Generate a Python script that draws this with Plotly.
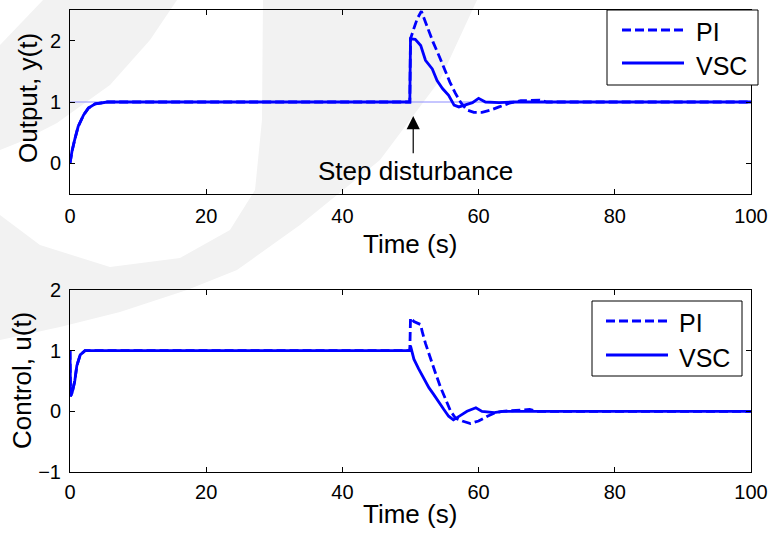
import plotly.graph_objects as go

# ---------------- data ----------------
# Output y(t)
t_y_pi = [0, 0.3, 0.7, 1.2, 2.0, 2.7, 3.7, 4.7, 5.5, 49.9, 50.0, 50.5, 51.0, 51.6, 52.5, 53.3, 54.2,
          55.0, 55.8, 56.6, 57.4, 58.3, 59.3, 60.5, 61.8, 63.0, 64.5, 66.2, 69.0, 70.0, 100]
y_pi = [0, 0.2, 0.39, 0.6, 0.79, 0.9, 0.97, 0.99, 1.0, 1.0, 2.03, 2.2, 2.36, 2.48, 2.2, 1.98, 1.75,
        1.52, 1.32, 1.14, 0.99, 0.87, 0.83, 0.83, 0.87, 0.92, 0.98, 1.02, 1.03, 1.0, 1.0]

t_y_vsc = [0, 0.3, 0.7, 1.2, 2.0, 2.7, 3.7, 4.7, 5.5, 49.9, 50.0, 50.7, 51.5, 52.2, 53.2, 53.9, 54.7,
           55.6, 56.4, 57.1, 58.1, 59.1, 60.0, 61.0, 63.0, 65.0, 100]
y_vsc = [0, 0.2, 0.39, 0.6, 0.79, 0.9, 0.97, 0.99, 1.0, 1.0, 2.03, 2.02, 1.92, 1.68, 1.54, 1.35, 1.22,
         1.11, 0.95, 0.92, 0.95, 0.99, 1.06, 1.0, 0.99, 1.0, 1.0]

t_ref = [0, 100]
y_ref = [1, 1]

# Control u(t)
t_u_pi = [0, 0.08, 0.3, 0.7, 1.0, 1.5, 2.2, 49.9, 50.0, 50.5, 51.5, 51.7, 52.2, 52.9, 53.7, 54.4,
          55.1, 55.9, 56.6, 57.6, 58.8, 60.0, 61.3, 62.5, 63.5, 65.5, 67.5, 68.5, 100]
u_pi = [1.0, 0.25, 0.3, 0.5, 0.75, 0.93, 1.0, 1.0, 1.54, 1.48, 1.43, 1.32, 1.12, 0.87, 0.62, 0.40,
        0.21, 0.0, -0.11, -0.16, -0.2, -0.16, -0.08, -0.02, 0.0, 0.02, 0.03, 0.0, 0.0]

t_u_vsc = [0, 0.08, 0.3, 0.7, 1.0, 1.5, 2.2, 49.9, 50.0, 50.5, 51.2, 51.9, 52.7, 53.4, 54.2, 54.9,
           55.6, 56.3, 57.3, 58.3, 59.6, 60.5, 62.3, 63.5, 100]
u_vsc = [1.0, 0.25, 0.3, 0.5, 0.75, 0.93, 1.0, 1.0, 1.08, 0.86, 0.70, 0.56, 0.39, 0.28, 0.14, 0.03,
         -0.08, -0.14, -0.07, 0.0, 0.06, 0.0, -0.02, 0.0, 0.0]

x_ticks = [0, 20, 40, 60, 80, 100]
y_ticks_top = [0, 1, 2]
y_ticks_bot = [-1, 0, 1, 2]
legend_names = ["PI", "VSC"]

# ---------------- layout helpers ----------------
W, H = 771, 540
ML, MR, MT, MB = 70, 20, 10, 68
PW, PH = W - ML - MR, H - MT - MB


def px(X):
    return (X - ML) / PW


def py(Y):
    return (H - MB - Y) / PH


BLUE = "#0000ff"
FONT = "Arial, Liberation Sans, Helvetica, sans-serif"
LW = 2.8

fig = go.Figure()

# top subplot traces
fig.add_trace(go.Scatter(x=t_ref, y=y_ref, mode="lines", line=dict(color="#8c8cff", width=1),
                         showlegend=False, xaxis="x", yaxis="y", hoverinfo="skip"))
fig.add_trace(go.Scatter(x=t_y_pi, y=y_pi, mode="lines", name=legend_names[0],
                         line=dict(color=BLUE, width=LW, dash="9px,4px"), showlegend=False,
                         xaxis="x", yaxis="y"))
fig.add_trace(go.Scatter(x=t_y_vsc, y=y_vsc, mode="lines", name=legend_names[1],
                         line=dict(color=BLUE, width=LW), showlegend=False,
                         xaxis="x", yaxis="y"))
# bottom subplot traces
fig.add_trace(go.Scatter(x=t_u_pi, y=u_pi, mode="lines", name=legend_names[0],
                         line=dict(color=BLUE, width=LW, dash="9px,4px"), showlegend=False,
                         xaxis="x2", yaxis="y2"))
fig.add_trace(go.Scatter(x=t_u_vsc, y=u_vsc, mode="lines", name=legend_names[1],
                         line=dict(color=BLUE, width=LW), showlegend=False,
                         xaxis="x2", yaxis="y2"))

axis_common = dict(showline=True, linecolor="black", linewidth=1, mirror="ticks",
                   ticks="inside", ticklen=5, tickcolor="black", tickwidth=1,
                   showgrid=False, zeroline=False, automargin=False,
                   tickfont=dict(family=FONT, size=20, color="black"))

top_bottom = py(194)
bot_top = py(290)

fig.update_layout(
    width=W, height=H,
    margin=dict(l=ML, r=MR, t=MT, b=MB, autoexpand=False),
    paper_bgcolor="white", plot_bgcolor="rgba(0,0,0,0)",
    showlegend=False,
    xaxis=dict(domain=[0, 1], range=[0, 100], tickvals=x_ticks, anchor="y",
               ticklabelstandoff=4, **axis_common),
    yaxis=dict(domain=[top_bottom, 1], range=[-0.5, 2.5], tickvals=y_ticks_top, anchor="x",
               ticklabelstandoff=4, **axis_common),
    xaxis2=dict(domain=[0, 1], range=[0, 100], tickvals=x_ticks, anchor="y2",
                ticklabelstandoff=2, **axis_common),
    yaxis2=dict(domain=[0, bot_top], range=[-1, 2], tickvals=y_ticks_bot, anchor="x2",
                ticklabelstandoff=4, **axis_common),
)

# ---------------- watermark (faint background shapes) ----------------
def poly(points):
    s = "M " + " L ".join(f"{px(X):.4f},{py(Y):.4f}" for X, Y in points) + " Z"
    return s

band1 = [(43, 0), (177, 0), (150, 40), (110, 85), (57, 123), (20, 142), (0, 150), (0, 45)]
band2 = [(263, 0), (477, 0), (440, 80), (380, 160), (300, 225), (237, 270), (187, 290), (120, 312),
         (60, 327), (0, 340), (0, 215), (40, 245), (110, 267), (180, 258), (230, 230), (255, 190),
         (262, 120)]
for b in (band1, band2):
    fig.add_shape(type="path", path=poly(b), xref="paper", yref="paper",
                  fillcolor="#f2f2f2", line=dict(width=0), layer="below")

# ---------------- axis titles ----------------
TF = dict(family=FONT, size=26, color="black")
LF = dict(family=FONT, size=25, color="black")
fig.add_annotation(text="Time (s)", x=px(410), y=py(244), xref="paper", yref="paper",
                   showarrow=False, font=TF, xanchor="center", yanchor="middle")
fig.add_annotation(text="Time (s)", x=px(410), y=py(514), xref="paper", yref="paper",
                   showarrow=False, font=TF, xanchor="center", yanchor="middle")
fig.add_annotation(text="Output, y(t)", x=px(28), y=py(98), xref="paper", yref="paper",
                   showarrow=False, font=TF, textangle=-90, xanchor="center", yanchor="middle")
fig.add_annotation(text="Control, u(t)", x=px(22), y=py(380), xref="paper", yref="paper",
                   showarrow=False, font=TF, textangle=-90, xanchor="center", yanchor="middle")

# step disturbance annotation
fig.add_annotation(text="Step disturbance", x=px(415), y=py(171), xref="paper", yref="paper",
                   showarrow=False, font=TF, xanchor="center", yanchor="middle")
fig.add_annotation(text="", x=50.4, y=0.77, ax=50.4, ay=0.14, xref="x", yref="y",
                   axref="x", ayref="y", showarrow=True, arrowhead=2, arrowsize=2.2,
                   arrowwidth=1.2, arrowcolor="black", standoff=0, startstandoff=0)

# ---------------- legends (drawn boxes) ----------------
def draw_legend(x0, y0, x1, y1, lx0, lx1, ly_pi, ly_vsc, tx, ty_pi, ty_vsc):
    fig.add_shape(type="rect", x0=px(x0), x1=px(x1), y0=py(y0), y1=py(y1), xref="paper",
                  yref="paper", fillcolor="white", line=dict(color="black", width=1), layer="above")
    fig.add_shape(type="line", x0=px(lx0), x1=px(lx1), y0=py(ly_pi), y1=py(ly_pi), xref="paper",
                  yref="paper", line=dict(color=BLUE, width=LW, dash="9px,4px"), layer="above")
    fig.add_shape(type="line", x0=px(lx0), x1=px(lx1), y0=py(ly_vsc), y1=py(ly_vsc), xref="paper",
                  yref="paper", line=dict(color=BLUE, width=LW), layer="above")
    fig.add_annotation(text=legend_names[0], x=px(tx), y=py(ty_pi), xref="paper", yref="paper",
                       showarrow=False, font=LF, xanchor="left", yanchor="middle")
    fig.add_annotation(text=legend_names[1], x=px(tx), y=py(ty_vsc), xref="paper", yref="paper",
                       showarrow=False, font=LF, xanchor="left", yanchor="middle")


draw_legend(607, 10, 758, 85, 622, 684, 30, 63, 694, 32, 66)
draw_legend(592, 301, 742, 376, 606, 668, 321, 355, 677, 323, 358)

fig.write_html("out.html")
